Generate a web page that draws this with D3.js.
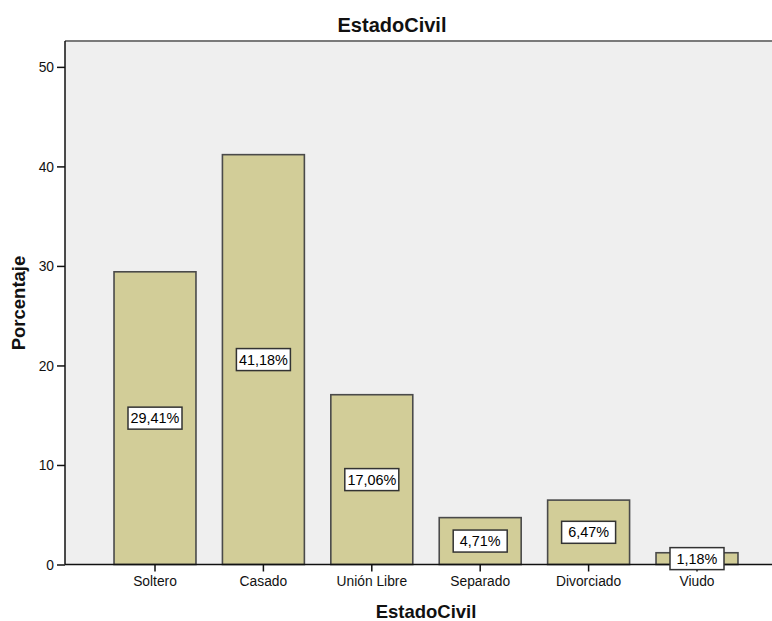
<!DOCTYPE html>
<html>
<head>
<meta charset="utf-8">
<script src="https://cdn.jsdelivr.net/npm/d3@7"></script>
<style>
  html, body { margin: 0; padding: 0; background: #ffffff; }
  svg { display: block; font-family: "Liberation Sans", Arial, sans-serif; }
</style>
</head>
<body>
<script>
// Estado civil: percentage of respondents per category
const categories = ["Soltero", "Casado", "Unión Libre", "Separado", "Divorciado", "Viudo"];
const percentages = [29.41, 41.18, 17.06, 4.71, 6.47, 1.18];
const yTicks = [0, 10, 20, 30, 40, 50];
const chartTitle = "EstadoCivil";
const xTitle = "EstadoCivil";
const yTitle = "Porcentaje";

const W = 772, H = 621;
const plot = { left: 65, right: 772, top: 41, bottom: 564.5 };

const svg = d3.select("body").append("svg")
  .attr("width", W).attr("height", H);

const x = d3.scaleBand()
  .domain(categories)
  .range([100.8, 751.2])
  .paddingInner(0.244)
  .paddingOuter(0.122);

const y = d3.scaleLinear()
  .domain([0, 52.6])
  .range([plot.bottom, plot.top]);

// plot background
svg.append("rect")
  .attr("x", plot.left).attr("y", plot.top)
  .attr("width", plot.right - plot.left)
  .attr("height", plot.bottom - plot.top)
  .attr("fill", "#efefef");

// top frame line
svg.append("line")
  .attr("x1", plot.left).attr("x2", plot.right)
  .attr("y1", plot.top).attr("y2", plot.top)
  .attr("stroke", "#7a7a7a").attr("stroke-width", 2);

// bars
svg.append("g").selectAll("rect")
  .data(categories)
  .join("rect")
  .attr("x", d => x(d))
  .attr("y", (d, i) => y(percentages[i]))
  .attr("width", x.bandwidth())
  .attr("height", (d, i) => y(0) - y(percentages[i]))
  .attr("fill", "#d2cd98")
  .attr("stroke", "#4a4a4a")
  .attr("stroke-width", 1.6);

// axes
const yAxis = svg.append("g")
  .attr("transform", `translate(${plot.left},0)`)
  .call(d3.axisLeft(y).tickValues(yTicks).tickSize(8).tickPadding(3));
const xAxis = svg.append("g")
  .attr("transform", `translate(0,${plot.bottom})`)
  .call(d3.axisBottom(x).tickSize(7).tickPadding(5));

[yAxis, xAxis].forEach(g => {
  g.select(".domain").remove();
  g.selectAll(".tick line").attr("stroke", "#111").attr("stroke-width", 1.5);
  g.selectAll(".tick text")
    .attr("fill", "#111")
    .style("font-family", "'Liberation Sans', Arial, sans-serif")
    .style("font-size", "13.8px");
});
yAxis.selectAll(".tick text").attr("dy", "0.36em");

// axis lines
svg.append("line")
  .attr("x1", plot.left).attr("x2", plot.left)
  .attr("y1", plot.top).attr("y2", plot.bottom)
  .attr("stroke", "#111").attr("stroke-width", 1.5);
svg.append("line")
  .attr("x1", plot.left).attr("x2", plot.right)
  .attr("y1", plot.bottom).attr("y2", plot.bottom)
  .attr("stroke", "#111").attr("stroke-width", 1.5);

// value labels in the middle of each bar
const fmt = v => v.toFixed(2).replace(".", ",") + "%";
const labels = svg.append("g").selectAll("g")
  .data(categories)
  .join("g")
  .attr("transform", (d, i) =>
    `translate(${x(d) + x.bandwidth() / 2},${y(percentages[i] / 2)})`);
labels.append("rect")
  .attr("x", -27).attr("y", -11)
  .attr("width", 54).attr("height", 22)
  .attr("fill", "#ffffff")
  .attr("stroke", "#333333")
  .attr("stroke-width", 1.5);
labels.append("text")
  .attr("text-anchor", "middle")
  .attr("dy", "0.36em")
  .attr("fill", "#000")
  .style("font-size", "14.4px")
  .text((d, i) => fmt(percentages[i]));

// titles
svg.append("text")
  .attr("x", 392).attr("y", 32)
  .attr("text-anchor", "middle")
  .style("font-size", "20px").style("font-weight", "bold")
  .attr("fill", "#111")
  .text(chartTitle);
svg.append("text")
  .attr("x", 426).attr("y", 618)
  .attr("text-anchor", "middle")
  .style("font-size", "18.5px").style("font-weight", "bold")
  .attr("fill", "#111")
  .text(xTitle);
svg.append("text")
  .attr("transform", "translate(25,303) rotate(-90)")
  .attr("text-anchor", "middle")
  .style("font-size", "18.5px").style("font-weight", "bold")
  .attr("fill", "#111")
  .text(yTitle);
</script>
</body>
</html>
